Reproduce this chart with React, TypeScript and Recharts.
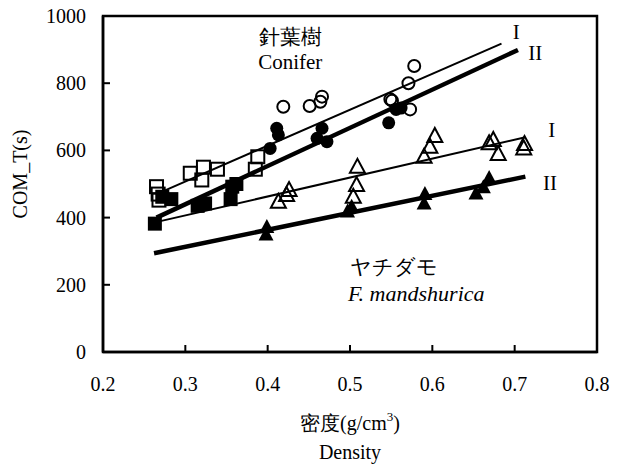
import {
  ScatterChart,
  Scatter,
  XAxis,
  YAxis,
  ReferenceLine,
  ReferenceArea,
  ReferenceDot,
  Label,
} from 'recharts';

// density (g/cm3), COM_T (s)
const coniferSquareOpen = [
  [0.265, 492], [0.267, 470], [0.268, 452], [0.306, 532], [0.32, 512],
  [0.322, 550], [0.339, 544], [0.385, 544], [0.388, 581],
];
const coniferCircleOpen = [
  [0.419, 730], [0.451, 732], [0.464, 745], [0.466, 760], [0.549, 752],
  [0.551, 748], [0.571, 800], [0.573, 722], [0.578, 851],
];
const coniferSquareFilled = [
  [0.263, 382], [0.272, 462], [0.283, 455], [0.315, 435], [0.324, 442],
  [0.355, 455], [0.357, 492], [0.362, 500],
];
const coniferCircleFilled = [
  [0.403, 606], [0.411, 666], [0.413, 646], [0.46, 636], [0.466, 666],
  [0.472, 626], [0.547, 682], [0.556, 722], [0.562, 726],
];
const fraxOpen = [
  [0.413, 447], [0.423, 467], [0.426, 482], [0.504, 462], [0.508, 497],
  [0.509, 551], [0.59, 581], [0.597, 611], [0.603, 643], [0.669, 621],
  [0.674, 631], [0.68, 589], [0.711, 606], [0.712, 619],
];
const fraxFilled = [
  [0.398, 350], [0.399, 372], [0.497, 418], [0.502, 432], [0.59, 442],
  [0.591, 470], [0.653, 472], [0.662, 490], [0.669, 518],
];

// regression lines: [start, end], thin = I, bold = II
const coniferLineI = [[0.265, 470], [0.684, 918]];
const coniferLineII = [[0.265, 400], [0.704, 899]];
const fraxLineI = [[0.267, 388], [0.713, 639]];
const fraxLineII = [[0.262, 294], [0.713, 522]];

const xTicks = [0.2, 0.3, 0.4, 0.5, 0.6, 0.7, 0.8];
const yTicks = [0, 200, 400, 600, 800, 1000];

const notes = [
  { x: 0.4275, y: 938, text: '針葉樹', anchor: 'middle', italic: false },
  { x: 0.4275, y: 863, text: 'Conifer', anchor: 'middle', italic: false },
  { x: 0.702, y: 953, text: 'I', anchor: 'middle', italic: false },
  { x: 0.725, y: 889, text: 'II', anchor: 'middle', italic: false },
  { x: 0.745, y: 661, text: 'I', anchor: 'middle', italic: false },
  { x: 0.743, y: 502, text: 'II', anchor: 'middle', italic: false },
  { x: 0.5, y: 254, text: 'ヤチダモ', anchor: 'start', italic: false },
  { x: 0.4976, y: 174, text: 'F. mandshurica', anchor: 'start', italic: true },
];

const FONT = "'Liberation Serif', 'Times New Roman', serif";

const toPoints = (arr: number[][]) => arr.map(([x, y]) => ({ x, y }));
const toSegment = (arr: number[][]) => arr.map(([x, y]) => ({ x, y }));

const OpenCircle = (p: any) => (
  <circle cx={p.cx} cy={p.cy} r={6} fill="none" stroke="#000" strokeWidth={2} />
);
const FilledCircle = (p: any) => <circle cx={p.cx} cy={p.cy} r={6.5} fill="#000" />;
const OpenSquare = (p: any) => (
  <rect x={p.cx - 6.5} y={p.cy - 6.5} width={13} height={13} fill="none" stroke="#000" strokeWidth={2} />
);
const FilledSquare = (p: any) => (
  <rect x={p.cx - 7} y={p.cy - 7} width={14} height={14} fill="#000" />
);
const tri = (cx: number, cy: number) =>
  `${cx},${cy - 8} ${cx - 7.5},${cy + 6} ${cx + 7.5},${cy + 6}`;
const OpenTriangle = (p: any) => (
  <polygon points={tri(p.cx, p.cy)} fill="none" stroke="#000" strokeWidth={2} />
);
const FilledTriangle = (p: any) => <polygon points={tri(p.cx, p.cy)} fill="#000" />;

const XTick = ({ x, y, payload }: any) => (
  <g>
    <line x1={x} y1={y} x2={x} y2={y - 7} stroke="#000" strokeWidth={2} />
    <text x={x} y={y + 39} textAnchor="middle" fontFamily={FONT} fontSize={20} fill="#000">
      {payload.value.toFixed(1)}
    </text>
  </g>
);

const YTick = ({ x, y, payload }: any) => (
  <g>
    <line x1={x} y1={y} x2={x + 7} y2={y} stroke="#000" strokeWidth={2} />
    <text x={x - 17} y={y + 7} textAnchor="end" fontFamily={FONT} fontSize={20} fill="#000">
      {payload.value}
    </text>
  </g>
);

const XTitle = ({ viewBox }: any) => {
  const cx = viewBox.x + viewBox.width / 2;
  return (
    <g fontFamily={FONT} fontSize={20} fill="#000">
      <text x={cx} y={viewBox.y + 78} textAnchor="middle">
        密度(g/cm<tspan fontSize={13} dy={-9}>3</tspan>
        <tspan dy={9}>)</tspan>
      </text>
      <text x={cx} y={viewBox.y + 107} textAnchor="middle">
        Density
      </text>
    </g>
  );
};

const YTitle = () => (
  <text
    x={27}
    y={174}
    transform="rotate(-90 27 174)"
    textAnchor="middle"
    fontFamily={FONT}
    fontSize={20}
    fill="#000"
  >
    COM_T(s)
  </text>
);

export default function App() {
  return (
    <div style={{ position: 'absolute', left: 0, top: 0, background: '#fff' }}>
      <ScatterChart
        width={618}
        height={465}
        margin={{ top: 16, right: 21, bottom: 0, left: 0 }}
      >
        <XAxis
          type="number"
          dataKey="x"
          domain={[0.2, 0.8]}
          ticks={xTicks}
          interval={0}
          height={113}
          tickSize={0}
          tickMargin={0}
          axisLine={{ stroke: '#000', strokeWidth: 2.5 }}
          tickLine={false}
          tick={<XTick />}
        >
          <Label content={<XTitle />} />
        </XAxis>
        <YAxis
          type="number"
          dataKey="y"
          domain={[0, 1000]}
          ticks={yTicks}
          interval={0}
          width={103}
          tickSize={0}
          tickMargin={0}
          axisLine={{ stroke: '#000', strokeWidth: 2.5 }}
          tickLine={false}
          tick={<YTick />}
        >
          <Label content={<YTitle />} />
        </YAxis>
        <ReferenceArea
          x1={0.2}
          x2={0.8}
          y1={0}
          y2={1000}
          fill="none"
          fillOpacity={0}
          stroke="#000"
          strokeWidth={2.5}
        />
        <ReferenceLine segment={toSegment(coniferLineI)} stroke="#000" strokeWidth={2} />
        <ReferenceLine segment={toSegment(coniferLineII)} stroke="#000" strokeWidth={4.5} />
        <ReferenceLine segment={toSegment(fraxLineI)} stroke="#000" strokeWidth={2} />
        <ReferenceLine segment={toSegment(fraxLineII)} stroke="#000" strokeWidth={4.5} />
        <Scatter data={toPoints(coniferSquareOpen)} shape={OpenSquare} isAnimationActive={false} />
        <Scatter data={toPoints(coniferSquareFilled)} shape={FilledSquare} isAnimationActive={false} />
        <Scatter data={toPoints(coniferCircleOpen)} shape={OpenCircle} isAnimationActive={false} />
        <Scatter data={toPoints(coniferCircleFilled)} shape={FilledCircle} isAnimationActive={false} />
        <Scatter data={toPoints(fraxOpen)} shape={OpenTriangle} isAnimationActive={false} />
        <Scatter data={toPoints(fraxFilled)} shape={FilledTriangle} isAnimationActive={false} />
        {notes.map((n, i) => (
          <ReferenceDot
            key={i}
            x={n.x}
            y={n.y}
            r={1}
            fill="none"
            stroke="none"
            label={(props: any) => {
              const vb = props.viewBox;
              const cx = vb.x + vb.width / 2;
              return (
                <text
                  x={cx}
                  y={vb.y + vb.height / 2 + 7}
                  textAnchor={n.anchor}
                  fontFamily={FONT}
                  fontSize={n.italic ? 22 : 21}
                  fontStyle={n.italic ? 'italic' : 'normal'}
                  fill="#000"
                >
                  {n.text}
                </text>
              );
            }}
          />
        ))}
      </ScatterChart>
    </div>
  );
}
